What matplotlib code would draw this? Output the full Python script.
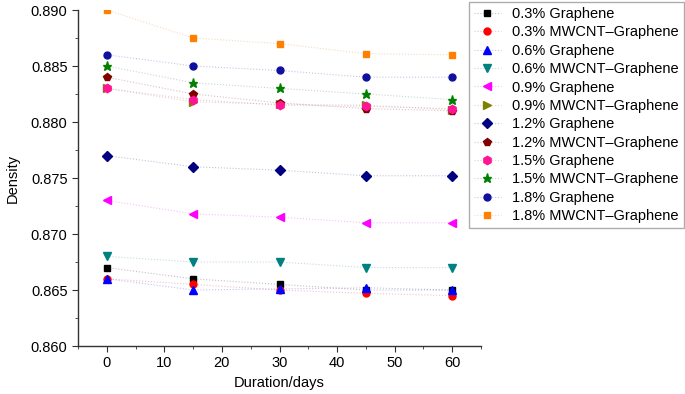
import numpy as np
import matplotlib
matplotlib.use('Agg')
import matplotlib.pyplot as plt
from matplotlib.colors import to_rgb

plt.rcParams['font.family'] = ['Liberation Sans', 'DejaVu Sans']

# 时间 (天)
days = [0, 15, 30, 45, 60]

labels = ['0.3% Graphene', '0.3% MWCNT\u2013Graphene',
          '0.6% Graphene', '0.6% MWCNT\u2013Graphene',
          '0.9% Graphene', '0.9% MWCNT\u2013Graphene',
          '1.2% Graphene', '1.2% MWCNT\u2013Graphene',
          '1.5% Graphene', '1.5% MWCNT\u2013Graphene',
          '1.8% Graphene', '1.8% MWCNT\u2013Graphene']

# 密度数据
g03 = [0.8670, 0.8660, 0.8655, 0.8650, 0.8650]
m03 = [0.8660, 0.8655, 0.8650, 0.8647, 0.8645]
g06 = [0.8660, 0.8650, 0.8651, 0.8652, 0.8650]
m06 = [0.8680, 0.8675, 0.8675, 0.8670, 0.8670]
g09 = [0.8730, 0.8718, 0.8715, 0.8710, 0.8710]
m09 = [0.8830, 0.8818, 0.8816, 0.8815, 0.8811]
g12 = [0.8770, 0.8760, 0.8757, 0.8752, 0.8752]
m12 = [0.8840, 0.8825, 0.8817, 0.8812, 0.8810]
g15 = [0.8830, 0.8820, 0.8815, 0.8814, 0.8812]
m15 = [0.8850, 0.8835, 0.8830, 0.8825, 0.8820]
g18 = [0.8860, 0.8850, 0.8846, 0.8840, 0.8840]
m18 = [0.8900, 0.8875, 0.8870, 0.8861, 0.8860]

series = [g03, m03, g06, m06, g09, m09, g12, m12, g15, m15, g18, m18]
markers = ['s', 'o', '^', 'v', '<', '>', 'D', 'p', 'h', '*', 'o', 's']
colors = ['#000000', '#ff0000', '#0000ff', '#008080', '#ff00ff', '#808000',
          '#000080', '#800000', '#ff1493', '#008000', '#1010a0', '#ff8000']
sizes = [4.5, 5, 5.5, 5.5, 5.5, 5.5, 5, 5.5, 6, 6.5, 5, 5]

fig = plt.figure(figsize=(6.85, 3.94), dpi=100)
ax = fig.add_axes([78 / 685, 1 - 346 / 394, (481 - 78) / 685, (346 - 10) / 394])

for y, lab, mk, c, s in zip(series, labels, markers, colors, sizes):
    # 线条颜色淡一些
    lc = tuple(0.5 * np.array(to_rgb(c)) + 0.5 * np.array([0.75, 0.75, 0.8])) + (0.38,)
    ax.plot(days, y, linestyle=':', linewidth=0.8, color=lc,
            marker=mk, markersize=s, markerfacecolor=c, markeredgecolor=c,
            label=lab)

ax.set_xlim(-5, 65)
ax.set_ylim(0.860, 0.890)
ax.set_xticks([0, 10, 20, 30, 40, 50, 60])
ax.set_xticks(np.arange(-5, 66, 5), minor=True)
ax.set_yticks(np.arange(0.860, 0.8901, 0.005))
ax.set_yticks(np.arange(0.860, 0.8901, 0.0025), minor=True)
ax.yaxis.set_major_formatter(matplotlib.ticker.FormatStrFormatter('%.3f'))
ax.spines['top'].set_visible(False)
ax.spines['right'].set_visible(False)
for sp in ['left', 'bottom']:
    ax.spines[sp].set_color('#333333')
    ax.spines[sp].set_linewidth(1.0)
ax.tick_params(which='major', direction='out', length=4, labelsize=10.5, color='#333333')
ax.tick_params(which='minor', direction='out', length=2.5, color='#333333')
ax.set_xlabel('Duration/days', fontsize=10.5)
ax.set_ylabel('Density', fontsize=10.5, labelpad=8)

leg = fig.legend(loc='upper right', bbox_to_anchor=(684 / 685, 1 - 2 / 394),
                 fontsize=10.5, frameon=True, fancybox=False, labelspacing=0.3,
                 handlelength=1.85, borderpad=0.35, handletextpad=0.8,
                 borderaxespad=0.0)
leg.get_frame().set_edgecolor('#999999')
leg.get_frame().set_linewidth(1.0)

fig.savefig('out.png', dpi=100)
